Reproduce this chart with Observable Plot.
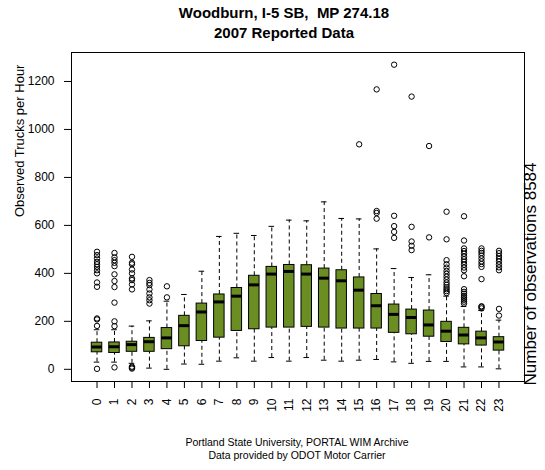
<!DOCTYPE html>
<html>
<head>
<meta charset="utf-8">
<script src="https://cdn.jsdelivr.net/npm/d3@7"></script>
<script src="https://cdn.jsdelivr.net/npm/@observablehq/plot@0.6"></script>
<style>
  html, body { margin: 0; padding: 0; background: #fff; }
  body { width: 545px; height: 470px; overflow: hidden; font-family: "Liberation Sans", Arial, sans-serif; color: #000; }
  #title { height: 44px; box-sizing: border-box; padding-top: 3.3px; }
  #title div { position: relative; left: 11.5px; width: 545px; text-align: center; font-weight: bold; font-size: 15px; line-height: 20px; white-space: pre; }
  #chart svg { display: block; }
  #caption { height: 40px; box-sizing: border-box; padding-top: 6.3px; }
  #caption div { position: relative; left: 24.5px; width: 545px; text-align: center; font-size: 10.5px; line-height: 13px; }
</style>
</head>
<body>
<div id="title"><div>Woodburn, I-5 SB,  MP 274.18</div><div>2007 Reported Data</div></div>
<div id="chart"></div>
<div id="caption"><div>Portland State University, PORTAL WIM Archive</div><div>Data provided by ODOT Motor Carrier</div></div>
<script>
// Hour of day (categories)
const hours = [0,1,2,3,4,5,6,7,8,9,10,11,12,13,14,15,16,17,18,19,20,21,22,23];
// Box-plot statistics (trucks per hour)
const lowerWhisker = [30, 30, 25, 5, 0, 22, 21, 34, 48, 34, 49, 34, 49, 38, 34, 38, 41, 31, 25, 33, 33, 10, 10, 2];
const q1           = [71, 68, 73, 73, 84, 96, 118, 132, 160, 167, 174, 174, 177, 174, 170, 170, 170, 152, 146, 136, 114, 104, 99, 78];
const median       = [93, 94, 103, 115, 131, 182, 239, 281, 305, 352, 397, 408, 397, 380, 369, 330, 265, 229, 216, 185, 159, 143, 131, 114];
const q3           = [111, 112, 115, 131, 172, 223, 274, 312, 339, 390, 427, 435, 434, 420, 413, 383, 314, 270, 249, 245, 198, 173, 157, 134];
const upperWhisker = [165, 165, 180, 202, 284, 312, 409, 554, 567, 558, 596, 622, 619, 698, 629, 627, 502, 420, 383, 394, 305, 262, 245, 205];
// Outliers per hour
const outliers = [
  [2, 181, 208, 212, 344, 362, 400, 413, 427, 438, 448, 462, 476, 490],
  [8, 180, 200, 278, 343, 368, 396, 430, 444, 455, 467, 485],
  [3, 7, 11, 333, 354, 372, 379, 400, 416, 438, 444, 469],
  [274, 288, 300, 316, 333, 351, 360, 372],
  [300, 346],
  [], [], [], [], [], [], [], [], [], [],
  [938],
  [628, 652, 660, 1167],
  [548, 573, 597, 640, 1270],
  [497, 515, 533, 594, 1137],
  [550, 931],
  [318, 326, 334, 342, 352, 362, 374, 386, 398, 410, 424, 438, 455, 542, 657],
  [274, 282, 290, 298, 306, 315, 323, 334, 388, 413, 424, 436, 448, 459, 470, 482, 493, 504, 537, 638],
  [254, 260, 263, 376, 427, 439, 450, 462, 474, 485, 494, 504],
  [224, 252, 413, 425, 437, 449, 460, 472, 484, 494]
];
const yTicks = [0, 200, 400, 600, 800, 1000, 1200];
const yLabel = "Observed Trucks per Hour";
const sideNote = "Number of observations 8584";

const rows = hours.map((h, i) => ({hour: h, lo: lowerWhisker[i], q1: q1[i], med: median[i], q3: q3[i], hi: upperWhisker[i]}));
const outRows = hours.flatMap((h, i) => outliers[i].map(v => ({hour: h, value: v})));

const HW = 0.3, CW = 0.16;
const boxFill = "#6B8E23";

const chart = Plot.plot({
  width: 545,
  height: 386,
  marginTop: 8,
  marginBottom: 49,
  marginLeft: 71,
  marginRight: 21,
  style: {fontFamily: "'Liberation Sans', Arial, sans-serif", fontSize: "12px", color: "#000", background: "#fff", overflow: "visible"},
  x: {type: "linear", domain: [-1.46, 24.46], ticks: hours, tickFormat: d => String(d), tickRotate: -90, tickSize: 7, tickPadding: 10, label: null},
  y: {type: "linear", domain: [-50.8, 1320.8], ticks: yTicks, tickFormat: d => String(d), tickSize: 7, tickPadding: 10, label: null},
  marks: [
    Plot.ruleX(rows, {x: "hour", y1: "q3", y2: "hi", stroke: "#000", strokeDasharray: "4,3"}),
    Plot.ruleX(rows, {x: "hour", y1: "lo", y2: "q1", stroke: "#000", strokeDasharray: "4,3"}),
    Plot.ruleY(rows, {y: "hi", x1: d => d.hour - CW, x2: d => d.hour + CW, stroke: "#000"}),
    Plot.ruleY(rows, {y: "lo", x1: d => d.hour - CW, x2: d => d.hour + CW, stroke: "#000"}),
    Plot.rect(rows, {x1: d => d.hour - HW, x2: d => d.hour + HW, y1: "q1", y2: "q3", fill: boxFill, stroke: "#000", strokeWidth: 1}),
    Plot.ruleY(rows, {y: "med", x1: d => d.hour - HW, x2: d => d.hour + HW, stroke: "#000", strokeWidth: 3}),
    Plot.dot(outRows, {x: "hour", y: "value", r: 2.7, stroke: "#000", fill: "none", strokeWidth: 1}),
    Plot.frame({stroke: "#000"}),
    Plot.text([yLabel], {text: d => d, frameAnchor: "left", dx: -52, rotate: -90, fontSize: 13, fill: "#000"}),
    Plot.text([sideNote], {text: d => d, frameAnchor: "bottom-right", dx: 11, dy: 4, rotate: -90, textAnchor: "start", fontSize: 17, fill: "#000"})
  ]
});
document.getElementById("chart").appendChild(chart);
</script>
</body>
</html>
